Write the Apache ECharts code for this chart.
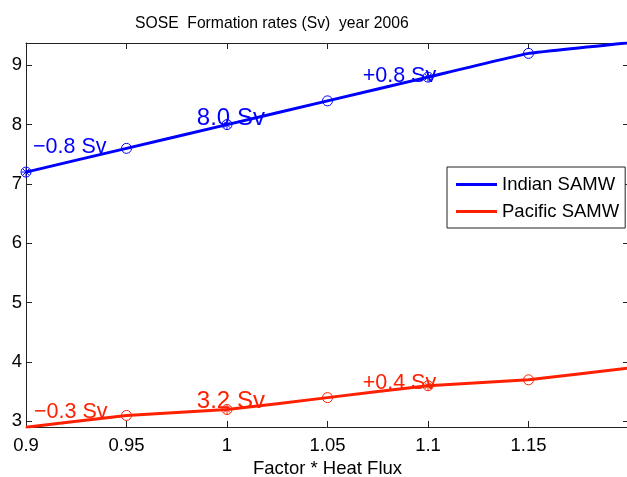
<!DOCTYPE html>
<html>
<head>
<meta charset="utf-8">
<script src="https://cdn.jsdelivr.net/npm/echarts@6/dist/echarts.min.js"></script>
<style>
  html, body { margin: 0; padding: 0; background: #fff; }
  #chart { width: 627px; height: 477px; }
</style>
</head>
<body>
<div id="chart"></div>
<script>
  // heat flux factors
  var factors = [0.9, 0.95, 1.0, 1.05, 1.1, 1.15];
  var indian = [7.2, 7.6, 8.0, 8.4, 8.8, 9.2];
  var pacific = [2.9, 3.1, 3.2, 3.4, 3.6, 3.7];
  // the curves carry on to the edge of the axes
  var curveEndX = 1.2;
  var indianEnd = 9.38;
  var pacificEnd = 3.9;
  // points that got a label (drawn with * inside the o)
  var markedX = [0.9, 1.0, 1.1];
  var xTicks = [0.9, 0.95, 1, 1.05, 1.1, 1.15];
  var yTicks = [3, 4, 5, 6, 7, 8, 9];
  // [x, y, text, big]
  var indianNotes = [[0.9035, 7.62, '\u22120.8 Sv', 0], [0.985, 8.11, '8.0 Sv', 1], [1.0675, 8.82, '+0.8 Sv', 0]];
  var pacificNotes = [[0.904, 3.15, '\u22120.3 Sv', 0], [0.985, 3.33, '3.2 Sv', 1], [1.0675, 3.65, '+0.4 Sv', 0]];

  var BLUE = '#0000ff', RED = '#ff2000', AX = '#222';
  var FONT = '"Liberation Sans", Arial, sans-serif';
  var STAR = 'path://M5,0L5,10M0,5L10,5M1.5,1.5L8.5,8.5M1.5,8.5L8.5,1.5';

  function pairs(xs, ys, endX, endY) {
    var out = [];
    for (var i = 0; i < xs.length; i++) out.push([xs[i], ys[i]]);
    if (endX != null) out.push([endX, endY]);
    return out;
  }
  function marked(xs, ys) {
    var out = [];
    for (var i = 0; i < xs.length; i++) {
      if (markedX.indexOf(xs[i]) >= 0) out.push([xs[i], ys[i]]);
    }
    return out;
  }
  function curve(name, ys, endY, color) {
    return {
      name: name, type: 'line', data: pairs(factors, ys, curveEndX, endY),
      smooth: 0.08, symbol: 'none', lineStyle: { color: color, width: 3 },
      itemStyle: { color: color }, z: 2
    };
  }
  function circles(name, ys, color) {
    return {
      name: name, type: 'scatter', data: pairs(factors, ys), symbol: 'circle', symbolSize: 10,
      itemStyle: { color: 'transparent', borderColor: color, borderWidth: 1, opacity: 1 }, z: 3
    };
  }
  function stars(name, ys, color) {
    return {
      name: name, type: 'scatter', data: marked(factors, ys), symbol: STAR, symbolSize: 9,
      itemStyle: { color: 'none', borderColor: color, borderWidth: 1, opacity: 1 }, z: 3
    };
  }
  function notes(name, list, color) {
    return {
      name: name, type: 'scatter', symbolSize: 0, z: 4, silent: true,
      itemStyle: { opacity: 1 },
      data: list.map(function (n) {
        return {
          value: [n[0], n[1]],
          label: {
            show: true, position: 'right', distance: 0, formatter: n[2],
            color: color, fontFamily: FONT, fontSize: n[3] ? 24 : 21.5
          }
        };
      })
    };
  }

  var chart = echarts.init(document.getElementById('chart'));
  var option = {
    animation: false,
    title: {
      text: 'SOSE  Formation rates (Sv)  year 2006',
      left: 130, top: 11,
      textStyle: { fontFamily: FONT, fontSize: 15.7, fontWeight: 'normal', color: '#000' }
    },
    legend: {
      data: ['Indian SAMW', 'Pacific SAMW'],
      orient: 'vertical', left: 447, top: 167,
      padding: [8, 6, 7, 9], itemGap: 8, itemWidth: 41, itemHeight: 3,
      icon: 'rect',
      borderColor: AX, borderWidth: 1, backgroundColor: '#fff',
      textStyle: { fontFamily: FONT, fontSize: 18.5, color: '#000' }
    },
    grid: { left: 26, top: 43, width: 603, height: 384, outerBoundsMode: 'none', containLabel: false },
    xAxis: [{
      type: 'value', min: 0.9, max: 1.2,
      name: 'Factor * Heat Flux', nameLocation: 'middle', nameGap: 30,
      nameTextStyle: { fontFamily: FONT, fontSize: 18.5, color: '#000' },
      axisLine: { lineStyle: { color: AX } },
      axisTick: { inside: true, length: 6, customValues: xTicks, lineStyle: { color: AX } },
      axisLabel: { customValues: xTicks, margin: 9, fontFamily: FONT, fontSize: 18.5, color: '#000' },
      splitLine: { show: false }
    }, {
      type: 'value', min: 0.9, max: 1.2, position: 'top',
      axisLine: { lineStyle: { color: AX } },
      axisTick: { inside: true, length: 6, customValues: xTicks, lineStyle: { color: AX } },
      axisLabel: { show: false }, splitLine: { show: false }
    }],
    yAxis: [{
      type: 'value', min: 2.905, max: 9.375,
      axisLine: { show: true, lineStyle: { color: AX } },
      axisTick: { show: true, inside: true, length: 6, customValues: yTicks, lineStyle: { color: AX } },
      axisLabel: { customValues: yTicks, margin: 4, fontFamily: FONT, fontSize: 18.5, color: '#000' },
      splitLine: { show: false }
    }, {
      type: 'value', min: 2.905, max: 9.375, position: 'right',
      axisLine: { show: true, lineStyle: { color: AX } },
      axisTick: { show: true, inside: true, length: 6, customValues: yTicks, lineStyle: { color: AX } },
      axisLabel: { show: false }, splitLine: { show: false }
    }],
    series: [
      curve('Indian SAMW', indian, indianEnd, BLUE),
      curve('Pacific SAMW', pacific, pacificEnd, RED),
      circles('indian pts', indian, BLUE),
      circles('pacific pts', pacific, RED),
      stars('indian marked', indian, BLUE),
      stars('pacific marked', pacific, RED),
      notes('indian notes', indianNotes, BLUE),
      notes('pacific notes', pacificNotes, RED)
    ]
  };
  chart.setOption(option);
</script>
</body>
</html>
